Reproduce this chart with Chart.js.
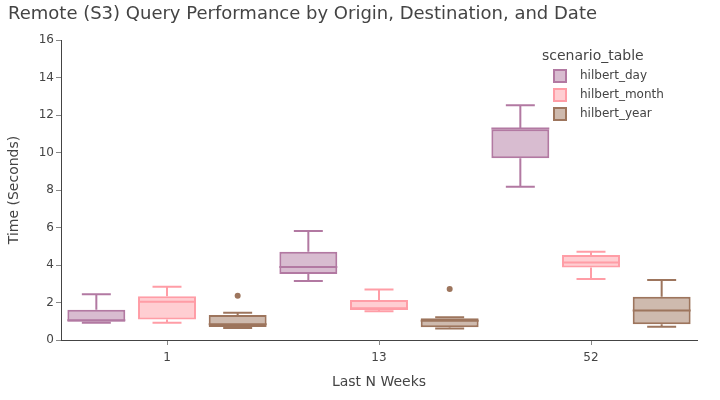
<!DOCTYPE html>
<html>
<head>
<meta charset="utf-8">
<script src="https://cdn.jsdelivr.net/npm/chart.js@4/dist/chart.umd.min.js"></script>
<style>
  html, body { margin: 0; padding: 0; background: #fff; }
  #wrap { width: 720px; height: 400px; }
</style>
</head>
<body>
<div id="wrap"><canvas id="c" width="720" height="400"></canvas></div>
<script>
const categories = ['1', '13', '52'];
const seriesNames = ['hilbert_day', 'hilbert_month', 'hilbert_year'];

const dayLower  = [0.92, 3.15, 8.18];
const dayQ1     = [0.98, 3.52, 9.69];
const dayMedian = [1.05, 3.89, 11.28];
const dayQ3     = [1.62, 4.71, 11.24];
const dayUpper  = [2.44, 5.81, 12.52];
const dayOutliers = [[], [], []];

const monthLower  = [0.92, 1.53, 3.25];
const monthQ1     = [1.10, 1.60, 3.87];
const monthMedian = [2.04, 1.69, 4.14];
const monthQ3     = [2.33, 2.13, 4.53];
const monthUpper  = [2.84, 2.70, 4.71];
const monthOutliers = [[], [], []];

const yearLower  = [0.64, 0.62, 0.71];
const yearQ1     = [0.69, 0.68, 0.84];
const yearMedian = [0.84, 1.03, 1.58];
const yearQ3     = [1.33, 1.16, 2.31];
const yearUpper  = [1.46, 1.21, 3.20];
const yearOutliers = [[2.36], [2.72], []];

const yTicks = [0, 2, 4, 6, 8, 10, 12, 14, 16];

const strokeColors = ['#B279A2', '#FF9DA6', '#9D755D'];
const fillColors = ['rgba(178,121,162,0.5)', 'rgba(255,157,166,0.5)', 'rgba(157,117,93,0.5)'];

const stats = [
  { lower: dayLower, q1: dayQ1, median: dayMedian, q3: dayQ3, upper: dayUpper, outliers: dayOutliers },
  { lower: monthLower, q1: monthQ1, median: monthMedian, q3: monthQ3, upper: monthUpper, outliers: monthOutliers },
  { lower: yearLower, q1: yearQ1, median: yearMedian, q3: yearQ3, upper: yearUpper, outliers: yearOutliers }
];

const FONT = '"DejaVu Sans", Verdana, sans-serif';
const TEXT = '#444';

const datasets = stats.map((s, i) => ({
  label: seriesNames[i],
  data: s.q1.map((v, j) => [v, s.q3[j]]),
  backgroundColor: fillColors[i],
  borderColor: strokeColors[i],
  borderWidth: 2,
  borderSkipped: false,
  barPercentage: 0.82,
  categoryPercentage: 1.0
}));

const boxPlugin = {
  id: 'boxParts',
  afterDatasetsDraw(chart) {
    const ctx = chart.ctx;
    const y = chart.scales.y;
    stats.forEach((s, i) => {
      const meta = chart.getDatasetMeta(i);
      meta.data.forEach((el, j) => {
        const x = el.x, w = el.width;
        const yMed = y.getPixelForValue(s.median[j]);
        const yQ1 = y.getPixelForValue(s.q1[j]);
        const yQ3 = y.getPixelForValue(s.q3[j]);
        const yLo = y.getPixelForValue(s.lower[j]);
        const yHi = y.getPixelForValue(s.upper[j]);
        ctx.save();
        ctx.strokeStyle = strokeColors[i];
        ctx.lineWidth = 2;
        ctx.beginPath();
        ctx.moveTo(x - w / 2, yMed); ctx.lineTo(x + w / 2, yMed);
        ctx.moveTo(x, yQ3); ctx.lineTo(x, yHi);
        ctx.moveTo(x, yQ1); ctx.lineTo(x, yLo);
        ctx.moveTo(x - w / 4, yHi); ctx.lineTo(x + w / 4, yHi);
        ctx.moveTo(x - w / 4, yLo); ctx.lineTo(x + w / 4, yLo);
        ctx.stroke();
        ctx.fillStyle = strokeColors[i];
        s.outliers[j].forEach(v => {
          ctx.beginPath();
          ctx.arc(x, y.getPixelForValue(v), 3, 0, Math.PI * 2);
          ctx.fill();
        });
        ctx.restore();
      });
    });
  },
  afterDraw(chart) {
    const ctx = chart.ctx;
    ctx.save();
    ctx.fillStyle = TEXT;
    ctx.font = '18px ' + FONT;
    ctx.textBaseline = 'middle';
    ctx.textAlign = 'left';
    ctx.fillText('Remote (S3) Query Performance by Origin, Destination, and Date', 8, 14);
    ctx.font = '14px ' + FONT;
    ctx.fillText('scenario_table', 542, 56);
    ctx.font = '12px ' + FONT;
    const ys = [76, 95, 114];
    seriesNames.forEach((n, i) => {
      ctx.fillStyle = '#fff';
      ctx.fillRect(554, ys[i] - 6, 12, 12);
      ctx.fillStyle = fillColors[i];
      ctx.fillRect(554, ys[i] - 6, 12, 12);
      ctx.strokeStyle = strokeColors[i];
      ctx.lineWidth = 2;
      ctx.strokeRect(554, ys[i] - 6, 12, 12);
      ctx.fillStyle = TEXT;
      ctx.fillText(n, 580, ys[i]);
    });
    ctx.restore();
  }
};

new Chart(document.getElementById('c'), {
  type: 'bar',
  data: { labels: categories, datasets },
  plugins: [boxPlugin],
  options: {
    responsive: false,
    animation: false,
    layout: { padding: { top: 40, right: 23, left: 0, bottom: 0 } },
    plugins: { legend: { display: false }, tooltip: { enabled: false }, title: { display: false } },
    scales: {
      x: {
        grid: { display: true, drawOnChartArea: false, offset: false, tickLength: 5, color: '#888', lineWidth: 1 },
        border: { display: true, color: '#444', width: 1 },
        ticks: { color: TEXT, font: { family: FONT, size: 12 }, padding: 6 },
        title: { display: true, text: 'Last N Weeks', color: TEXT, font: { family: FONT, size: 14 }, padding: { top: 4, bottom: 9 } },
        afterFit(scale) { scale.height = 60; }
      },
      y: {
        min: 0, max: 16,
        afterBuildTicks(scale) { scale.ticks = yTicks.map(v => ({ value: v })); },
        grid: { display: true, drawOnChartArea: false, tickLength: 5, color: '#888', lineWidth: 1 },
        border: { display: true, color: '#444', width: 1 },
        ticks: { color: TEXT, font: { family: FONT, size: 12 }, padding: 2 },
        title: { display: true, text: 'Time (Seconds)', color: TEXT, font: { family: FONT, size: 14 }, padding: { top: 6, bottom: 4 } },
        afterFit(scale) { scale.width = 61; }
      }
    }
  }
});
</script>
</body>
</html>
